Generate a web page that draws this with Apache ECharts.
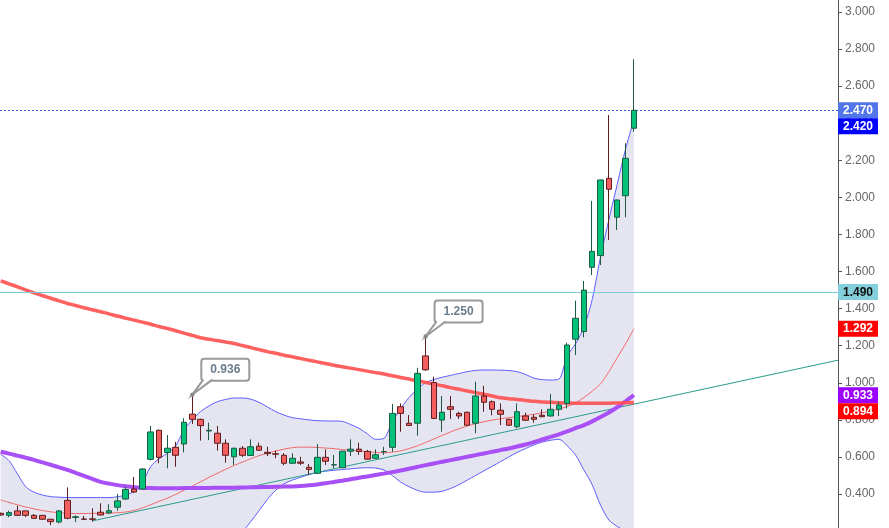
<!DOCTYPE html>
<html>
<head>
<meta charset="utf-8">
<script src="https://cdn.jsdelivr.net/npm/echarts@6/dist/echarts.min.js"></script>
<style>
  html, body { margin: 0; padding: 0; background: #fff; }
  #chart { width: 889px; height: 528px; }
</style>
</head>
<body>
<div id="chart"></div>
<script>
// candles (index 0 is the half-hidden one at the left edge)
var opens  = [0.296,0.285,0.309,0.309,0.285,0.285,0.264,0.249,0.366,0.274,0.265,0.266,0.302,0.298,0.329,0.373,0.427,0.427,0.587,0.744,0.624,0.652,0.670,0.831,0.803,0.740,0.728,0.674,0.601,0.647,0.608,0.658,0.625,0.617,0.609,0.566,0.573,0.544,0.512,0.598,0.557,0.542,0.631,0.642,0.630,0.593,0.628,0.652,0.871,0.782,0.782,1.145,1.001,0.799,0.871,0.835,0.841,0.782,0.929,0.898,0.852,0.803,0.763,0.821,0.814,0.825,0.821,0.857,0.889,1.235,1.276,1.623,1.686,2.103,1.893,2.009,2.373];
var closes = [0.287,0.300,0.285,0.285,0.269,0.264,0.251,0.309,0.269,0.277,0.264,0.264,0.287,0.310,0.363,0.425,0.411,0.535,0.735,0.598,0.647,0.609,0.787,0.803,0.769,0.744,0.674,0.609,0.647,0.609,0.655,0.636,0.618,0.615,0.566,0.593,0.566,0.533,0.598,0.577,0.558,0.631,0.642,0.630,0.588,0.612,0.629,0.835,0.835,0.770,1.051,1.070,0.808,0.841,0.857,0.821,0.771,0.929,0.895,0.857,0.830,0.771,0.844,0.798,0.803,0.817,0.857,0.880,1.204,1.348,1.500,1.709,2.094,2.044,1.986,2.211,2.470];
var lows   = [0.283,0.275,0.283,0.275,0.267,0.262,0.232,0.242,0.264,0.249,0.263,0.251,0.285,0.292,0.310,0.368,0.406,0.425,0.581,0.566,0.539,0.547,0.625,0.778,0.688,0.691,0.634,0.569,0.557,0.600,0.605,0.633,0.605,0.593,0.555,0.563,0.557,0.503,0.508,0.557,0.539,0.540,0.605,0.611,0.585,0.590,0.611,0.628,0.736,0.768,0.715,1.064,0.806,0.736,0.805,0.805,0.769,0.728,0.844,0.825,0.772,0.768,0.755,0.795,0.785,0.815,0.818,0.821,0.862,1.150,1.245,1.581,1.635,1.770,1.824,1.893,2.354];
var highs  = [0.300,0.310,0.337,0.311,0.292,0.287,0.266,0.314,0.436,0.285,0.282,0.323,0.350,0.345,0.401,0.439,0.492,0.540,0.767,0.748,0.718,0.682,0.809,0.936,0.806,0.785,0.767,0.695,0.650,0.659,0.695,0.677,0.655,0.634,0.621,0.620,0.601,0.562,0.670,0.641,0.611,0.634,0.695,0.677,0.638,0.641,0.655,0.886,0.889,0.826,1.081,1.250,1.033,0.929,0.929,0.844,0.844,1.006,0.983,0.905,0.889,0.806,0.889,0.839,0.830,0.857,0.940,0.898,1.216,1.443,1.549,1.981,2.096,2.444,1.988,2.292,2.745];

// indicator lines
var maSlowRed = [1.550,1.534,1.518,1.501,1.485,1.471,1.456,1.442,1.428,1.417,1.405,1.394,1.383,1.372,1.360,1.349,1.338,1.327,1.316,1.304,1.293,1.281,1.268,1.256,1.243,1.235,1.228,1.220,1.212,1.201,1.190,1.179,1.168,1.159,1.149,1.140,1.131,1.122,1.113,1.104,1.095,1.087,1.079,1.071,1.063,1.055,1.047,1.038,1.029,1.020,1.011,1.002,0.993,0.984,0.974,0.965,0.956,0.947,0.938,0.929,0.919,0.914,0.910,0.905,0.900,0.897,0.895,0.893,0.891,0.890,0.889,0.889,0.889,0.890,0.891,0.892,0.894];
var maPurple = [0.628,0.618,0.607,0.596,0.584,0.571,0.558,0.544,0.530,0.514,0.498,0.482,0.466,0.456,0.448,0.442,0.437,0.434,0.432,0.431,0.431,0.431,0.432,0.432,0.433,0.433,0.434,0.434,0.434,0.435,0.436,0.437,0.438,0.439,0.440,0.441,0.443,0.447,0.452,0.458,0.465,0.472,0.480,0.488,0.495,0.503,0.510,0.518,0.527,0.536,0.546,0.556,0.565,0.574,0.583,0.592,0.601,0.610,0.619,0.628,0.637,0.646,0.656,0.667,0.680,0.694,0.708,0.722,0.738,0.755,0.772,0.792,0.815,0.840,0.868,0.900,0.933];
var bandMid = [0.368,0.355,0.342,0.330,0.320,0.311,0.304,0.299,0.296,0.295,0.295,0.296,0.296,0.297,0.299,0.303,0.311,0.325,0.342,0.360,0.378,0.398,0.420,0.443,0.466,0.490,0.512,0.533,0.554,0.572,0.590,0.607,0.620,0.632,0.642,0.650,0.653,0.653,0.651,0.648,0.645,0.640,0.636,0.632,0.628,0.625,0.622,0.626,0.633,0.645,0.660,0.678,0.697,0.716,0.735,0.752,0.767,0.780,0.790,0.799,0.806,0.812,0.818,0.824,0.830,0.838,0.847,0.858,0.872,0.892,0.920,0.955,0.995,1.060,1.135,1.210,1.292];
var bandUpper = [0.615,0.580,0.510,0.440,0.410,0.395,0.386,0.383,0.381,0.381,0.381,0.381,0.381,0.381,0.385,0.395,0.415,0.460,0.548,0.590,0.620,0.660,0.745,0.800,0.845,0.875,0.898,0.910,0.918,0.918,0.912,0.895,0.870,0.845,0.826,0.812,0.806,0.800,0.796,0.794,0.794,0.792,0.775,0.755,0.725,0.695,0.700,0.790,0.860,0.920,0.965,1.000,1.018,1.030,1.040,1.050,1.060,1.067,1.069,1.069,1.068,1.066,1.060,1.045,1.025,1.017,1.015,1.020,1.145,1.210,1.300,1.450,1.680,1.880,2.070,2.260,2.420];
var bandLower = [0.120,0.130,0.170,0.200,0.210,0.210,0.210,0.210,0.210,0.210,0.210,0.210,0.210,0.210,0.210,0.210,0.205,0.190,0.140,0.130,0.136,0.136,0.095,0.086,0.087,0.105,0.126,0.156,0.190,0.200,0.250,0.310,0.370,0.420,0.455,0.475,0.490,0.505,0.515,0.523,0.528,0.532,0.536,0.540,0.542,0.540,0.530,0.500,0.465,0.440,0.420,0.410,0.410,0.415,0.430,0.450,0.475,0.500,0.525,0.550,0.575,0.600,0.625,0.645,0.665,0.680,0.690,0.695,0.660,0.610,0.530,0.450,0.340,0.260,0.225,0.200,0.170];

// trend line, from candle 11 out to the right edge of the plot
var trendIdx = [11, 100.5];
var trendVal = [0.255, 1.122];

var lastPrice = 2.470;
var supportLevel = 1.490;

var calloutIdx = [23, 51];
var calloutVal = [0.936, 1.250];

var tagValues = [2.470, 2.420, 1.490, 1.292, 0.933, 0.894];
var tagColors = ['#5275ea', '#0000ff', '#84cfdc', '#ff0000', '#9b00ff', '#ff0000'];
var tagText   = ['#ffffff', '#ffffff', '#111111', '#ffffff', '#ffffff', '#ffffff'];

function withIndex(arr) {
  return arr.map(function (v, i) { return [i, v]; });
}

var candles = opens.map(function (o, i) {
  return [i, o, closes[i], lows[i], highs[i]];
});

var chart = echarts.init(document.getElementById('chart'), null, { renderer: 'canvas' });

function lineSeries(name, data, color, width, z, extra) {
  var s = {
    name: name,
    type: 'line',
    data: withIndex(data),
    symbol: 'none',
    smooth: 0.3,
    lineStyle: { color: color, width: width },
    z: z
  };
  if (extra) for (var k in extra) s[k] = extra[k];
  return s;
}

var option = {
  animation: false,
  backgroundColor: '#ffffff',
  grid: { left: 0, right: 51, top: 0, bottom: 0, containLabel: false },
  xAxis: {
    type: 'value',
    min: -0.08,
    max: 100.5,
    show: false,
    splitLine: { show: false }
  },
  yAxis: {
    type: 'value',
    position: 'right',
    min: 0.2168,
    max: 3.0647,
    minInterval: 0.2,
    maxInterval: 0.2,
    scale: true,
    splitLine: { show: false },
    axisLine: { show: true, onZero: false, lineStyle: { color: '#555555', width: 1 } },
    axisTick: { show: true, length: 4, lineStyle: { color: '#555555' } },
    axisLabel: {
      color: '#666666',
      fontSize: 12,
      fontFamily: 'Liberation Sans, Arial, sans-serif',
      margin: 7,
      showMinLabel: false,
      showMaxLabel: false,
      formatter: function (v) { return v.toFixed(3); }
    }
  },
  series: [
    lineSeries('bbFill', bandUpper, '#e5e5f2', 0, 1, {
      areaStyle: { color: '#e5e5f2', opacity: 1, origin: 'start' }, silent: true
    }),
    lineSeries('bbCut', bandLower, '#ffffff', 0, 2, {
      areaStyle: { color: '#ffffff', opacity: 1, origin: 'start' }, silent: true
    }),
    lineSeries('upper', bandUpper, '#5e5eff', 1, 3),
    lineSeries('lower', bandLower, '#5e5eff', 1, 3),
    lineSeries('mid', bandMid, '#f06a6a', 1, 3),
    {
      name: 'trend',
      type: 'line',
      data: trendIdx.map(function (x, i) { return [x, trendVal[i]]; }),
      symbol: 'none',
      lineStyle: { color: '#2a9d8a', width: 1 },
      z: 4
    },
    lineSeries('maPurple', maPurple, '#a84ff5', 4, 4),
    lineSeries('maRed', maSlowRed, 'rgba(255,79,79,0.9)', 3.5, 4),
    {
      name: 'price',
      type: 'candlestick',
      data: candles,
      encode: { x: 0, y: [1, 2, 3, 4] },
      barWidth: 6,
      itemStyle: {
        color: '#00c27a',
        color0: '#f45e5e',
        borderColor: '#1c5a42',
        borderColor0: '#5e1d1d',
        borderWidth: 1
      },
      z: 6,
      markLine: {
        silent: true,
        symbol: ['none', 'none'],
        label: { show: false },
        data: [
          { yAxis: lastPrice, lineStyle: { color: '#3355ee', type: [2, 2], width: 1 } },
          { yAxis: supportLevel, lineStyle: { color: '#7ccbd8', type: 'solid', width: 1 } }
        ]
      }
    },
    {
      name: 'callouts',
      type: 'custom',
      data: calloutIdx.map(function (x, i) { return [x, calloutVal[i]]; }),
      z: 10,
      renderItem: function (params, api) {
        var p = api.coord([api.value(0), api.value(1)]);
        var txt = api.value(1).toFixed(3);
        return {
          type: 'group',
          children: [
            {
              type: 'rect',
              shape: { x: p[0] + 9, y: p[1] - 36, width: 48, height: 22, r: 3 },
              style: { fill: '#ffffff', stroke: '#9a9a9a', lineWidth: 2 }
            },
            {
              type: 'polygon',
              shape: { points: [[p[0] + 1, p[1] - 1], [p[0] + 11.5, p[1] - 16], [p[0] + 19.5, p[1] - 16]] },
              style: { fill: '#ffffff' }
            },
            {
              type: 'polyline',
              shape: { points: [[p[0] + 11, p[1] - 15], [p[0], p[1]], [p[0] + 20, p[1] - 15]] },
              style: { stroke: '#9a9a9a', lineWidth: 2, fill: null }
            },
            {
              type: 'circle',
              shape: { cx: p[0], cy: p[1], r: 2.2 },
              style: { fill: '#8a8a8a' }
            },
            {
              type: 'text',
              x: p[0] + 33,
              y: p[1] - 25,
              style: {
                text: txt,
                fill: '#6b7c8e',
                font: 'bold 12px "Liberation Sans", Arial, sans-serif',
                align: 'center',
                verticalAlign: 'middle'
              }
            }
          ]
        };
      }
    }
  ]
};

chart.setOption(option);

// right-edge price tags, pushed apart where they would overlap
var tagH = 16;
var gridRight = 889 - 51;
var tags = tagValues.map(function (v, i) {
  return { v: v, y: chart.convertToPixel({ yAxisIndex: 0 }, v), bg: tagColors[i], fg: tagText[i] };
});
tags.sort(function (a, b) { return a.y - b.y; });
for (var k = 1; k < tags.length; k++) {
  if (tags[k].y < tags[k - 1].y + tagH) tags[k].y = tags[k - 1].y + tagH;
}
var tagEls = [];
tags.forEach(function (t) {
  tagEls.push({
    type: 'rect', z: 100, zlevel: 1,
    shape: { x: gridRight, y: t.y - tagH / 2, width: 40, height: tagH },
    style: { fill: t.bg }
  });
  tagEls.push({
    type: 'text', z: 101, zlevel: 1,
    x: gridRight + 20, y: t.y + 0.5,
    style: {
      text: t.v.toFixed(3), fill: t.fg,
      font: 'bold 12px "Liberation Sans", Arial, sans-serif',
      align: 'center', verticalAlign: 'middle'
    }
  });
});
chart.setOption({ graphic: tagEls });
</script>
</body>
</html>
